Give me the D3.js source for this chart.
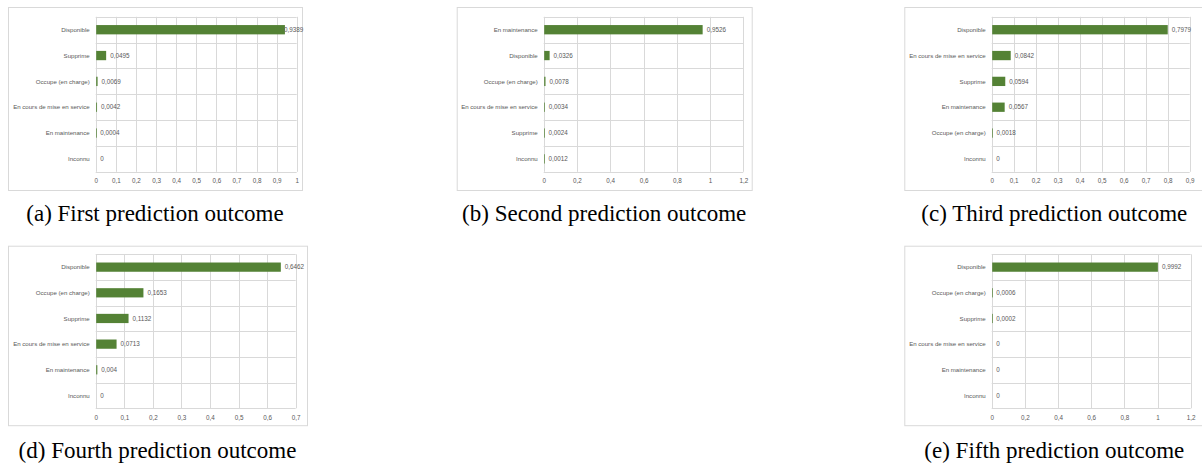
<!DOCTYPE html>
<html>
<head>
<meta charset="utf-8">
<script src="https://cdn.jsdelivr.net/npm/d3@7"></script>
<style>
  body { margin: 0; background: #fff; }
  svg { display: block; }
</style>
</head>
<body>
<svg id="chart" width="1202" height="468"></svg>
<script>
// chart data
const catsA = ['Disponible', 'Supprime', 'Occupe (en charge)', 'En cours de mise en service', 'En maintenance', 'Inconnu'];
const valsA = [0.9389, 0.0495, 0.0069, 0.0042, 0.0004, 0];

const catsB = ['En maintenance', 'Disponible', 'Occupe (en charge)', 'En cours de mise en service', 'Supprime', 'Inconnu'];
const valsB = [0.9526, 0.0326, 0.0078, 0.0034, 0.0024, 0.0012];

const catsC = ['Disponible', 'En cours de mise en service', 'Supprime', 'En maintenance', 'Occupe (en charge)', 'Inconnu'];
const valsC = [0.7979, 0.0842, 0.0594, 0.0567, 0.0018, 0];

const catsD = ['Disponible', 'Occupe (en charge)', 'Supprime', 'En cours de mise en service', 'En maintenance', 'Inconnu'];
const valsD = [0.6462, 0.1653, 0.1132, 0.0713, 0.004, 0];

const catsE = ['Disponible', 'Occupe (en charge)', 'Supprime', 'En cours de mise en service', 'En maintenance', 'Inconnu'];
const valsE = [0.9992, 0.0006, 0.0002, 0, 0, 0];

// x axis: max and step per panel
const axisMax = [1, 1.2, 0.9, 0.7, 1.2];
const axisStep = [0.1, 0.2, 0.1, 0.1, 0.2];

const captions = [
  '(a) First prediction outcome',
  '(b) Second prediction outcome',
  '(c) Third prediction outcome',
  '(d) Fourth prediction outcome',
  '(e) Fifth prediction outcome'
];

// panel frames and plot areas (x, y, w, h)
const panels = [
  { frame: [8, 7, 294, 183], plot: [95.7, 16.8, 201, 155], capY: 221 },
  { frame: [456.7, 7, 295, 183], plot: [543.7, 16.8, 199.6, 155], capY: 221 },
  { frame: [904.3, 7, 300, 183], plot: [991.7, 16.8, 198, 155], capY: 221 },
  { frame: [8, 245.7, 299, 179.5], plot: [95.7, 254.3, 200, 154], capY: 458 },
  { frame: [904.3, 245.7, 300, 179.5], plot: [991.7, 254.3, 199, 154], capY: 458 }
];

const cats = [catsA, catsB, catsC, catsD, catsE];
const vals = [valsA, valsB, valsC, valsD, valsE];

const svg = d3.select('#chart');
const grid = '#d9d9d9';
const txt = '#595959';
const green = '#548235';
const comma = v => String(v).replace('.', ',');

panels.forEach((p, i) => {
  const [fx, fy, fw, fh] = p.frame;
  const [px, py, pw, ph] = p.plot;
  const data = cats[i].map((c, k) => ({ cat: c, val: vals[i][k] }));

  const x = d3.scaleLinear().domain([0, axisMax[i]]).range([px, px + pw]);
  const y = d3.scaleBand().domain(cats[i]).range([py, py + ph]).paddingInner(0).paddingOuter(0);

  const g = svg.append('g');

  g.append('rect')
    .attr('x', fx + 0.5).attr('y', fy + 0.5)
    .attr('width', fw).attr('height', fh)
    .attr('fill', '#fff').attr('stroke', grid).attr('stroke-width', 1);

  const ticks = d3.range(0, axisMax[i] + axisStep[i] / 2, axisStep[i]).map(t => +t.toFixed(1));

  // vertical gridlines
  g.selectAll('.vg').data(ticks).enter().append('line')
    .attr('x1', d => Math.round(x(d)) + 0.5).attr('x2', d => Math.round(x(d)) + 0.5)
    .attr('y1', py).attr('y2', py + ph)
    .attr('stroke', grid).attr('stroke-width', 1);

  // horizontal band lines
  const bounds = cats[i].map(c => y(c)).concat([py + ph]);
  g.selectAll('.hg').data(bounds).enter().append('line')
    .attr('x1', px).attr('x2', px + pw)
    .attr('y1', d => Math.round(d) + 0.5).attr('y2', d => Math.round(d) + 0.5)
    .attr('stroke', grid).attr('stroke-width', 1);

  // tick labels
  const ax = g.append('g')
    .attr('transform', `translate(0,${py + ph + 7})`)
    .call(d3.axisBottom(x).tickValues(ticks).tickSize(0).tickPadding(0)
      .tickFormat(d => comma(d)));
  ax.select('.domain').remove();
  ax.selectAll('text')
    .attr('fill', txt)
    .style('font-family', 'Liberation Sans, Arial, sans-serif')
    .style('font-size', '6.3px');

  // category labels
  g.selectAll('.cl').data(data).enter().append('text')
    .attr('x', px - 6)
    .attr('y', d => y(d.cat) + y.bandwidth() / 2)
    .attr('dy', '0.35em')
    .attr('text-anchor', 'end')
    .attr('fill', txt)
    .style('font-family', 'Liberation Sans, Arial, sans-serif')
    .style('font-size', '6.1px')
    .text(d => d.cat);

  // bars
  const bh = y.bandwidth() * 0.36;
  g.selectAll('.bar').data(data).enter().append('rect')
    .attr('x', x(0) + 0.5)
    .attr('y', d => y(d.cat) + (y.bandwidth() - bh) / 2)
    .attr('width', d => d.val > 0 ? Math.max(x(d.val) - x(0), 0.7) : 0)
    .attr('height', bh)
    .attr('fill', green);

  // value labels
  g.selectAll('.vl').data(data).enter().append('text')
    .attr('x', d => Math.min(x(d.val) + 4.5, fx + fw - 18))
    .attr('y', d => y(d.cat) + y.bandwidth() / 2)
    .attr('dy', '0.35em')
    .attr('fill', txt)
    .style('font-family', 'Liberation Sans, Arial, sans-serif')
    .style('font-size', '6.3px')
    .text(d => comma(d.val));

  // caption
  svg.append('text')
    .attr('x', fx + fw / 2)
    .attr('y', p.capY)
    .attr('text-anchor', 'middle')
    .attr('fill', '#000')
    .style('font-family', 'Liberation Serif, Times New Roman, serif')
    .style('font-size', '23px')
    .text(captions[i]);
});
</script>
</body>
</html>
